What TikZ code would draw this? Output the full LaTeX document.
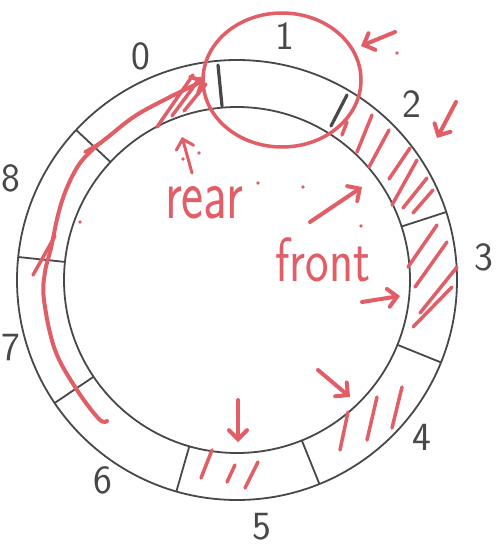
\documentclass[tikz,border=0pt]{standalone}
\usepackage{tikz}
\usetikzlibrary{arrows.meta}
\definecolor{ink}{RGB}{72,72,72}
\definecolor{pen}{RGB}{225,94,102}

\begin{document}
\begin{tikzpicture}[x=1pt, y=-1pt,
    ring/.style={draw=ink, line width=1.8pt},
    slot/.style={font=\fontsize{40}{40}\selectfont\sffamily, text=ink, inner sep=0pt},
    redpen/.style={draw=pen, line width=4pt, line cap=round, line join=round},
    hatch/.style={redpen, line width=3.5pt},
    pointer/.style={redpen, -{Straight Barb[length=9pt, width=18pt, line cap=round]}},
    word/.style={text=pen, inner sep=0pt, font=\fontsize{50}{50}\selectfont\sffamily}]

    \fill[white] (0,0) rectangle (495,551);
    \useasboundingbox (0,0) rectangle (495,551);

    % the ring buffer
    \coordinate (c) at (237,280);
    \draw[ring] (c) circle[radius=220];
    \draw[ring] (c) circle[radius=173];
    \foreach \a in {-174,-137,-18,22,68,106,146}
        \draw[ring, shift={(c)}] (\a:173) -- (\a:220);
    \draw[ring, line width=3.2pt, line cap=round] (218,65) -- (222,106);
    \draw[ring, line width=3.2pt, line cap=round] (347,95) -- (331,126);

    % slot numbers
    \node[slot] (n0) at (141,56) {0};
    \node[slot] (n1) at (285,36) {1};
    \node[slot] (n2) at (412,104) {2};
    \node[slot] (n3) at (484,257) {3};
    \node[slot] (n4) at (422,437) {4};
    \node[slot] (n5) at (262,527) {5};
    \node[slot] (n6) at (103,480) {6};
    \node[slot] (n7) at (11,348) {7};
    \node[slot] (n8) at (11,178) {8};

    % red notes
    \draw[redpen, line width=3.5pt] (282,80) ellipse[x radius=79, y radius=67];
    \draw[pointer] plot[smooth, tension=0.6] coordinates {(107,421) (99,419) (77,390)
        (55,350) (44,300) (45,272) (51,248) (58,215) (66,190) (78,166) (92,150)
        (108,137) (135,116) (168,98) (205,80)};
    \draw[hatch] (33,275) -- (55,236);
    \draw[hatch] (85,152) -- (102,142);
    \foreach \xa/\ya/\xb/\yb in {157/127/193/75, 172/116/200/78, 184/111/206/84}
        \draw[hatch] (\xa,\ya) -- (\xb,\yb);

    \draw[pointer, line width=3pt] (192,173) -- (182,137);
    \node[word] (rear) at (204,203) {\scalebox{1.05}[1.45]{rear}};
    \node[word] (front) at (323,260) {\scalebox{1}[1.25]{front}};

    \draw[pointer] (395,32) -- (361,46);
    \draw[pointer] (456,102) -- (437,138);
    \draw[pointer] (310,222) -- (362,187);
    \draw[pointer] (362,302) -- (400,296);
    \draw[pointer] (318,370) -- (350,397);
    \draw[pointer] (238,400) -- (238,442);

    % hatching of the filled slots
    \foreach \xa/\ya/\xb/\yb in {347/122/342/135, 372/115/357/152, 389/130/369/167,
        410/148/389/179, 417/160/392/205, 427/178/403/208, 433/190/413/213,
        437/225/408/267, 447/242/415/287, 457/267/420/313, 452/287/413/327,
        348/412/340/450, 377/397/367/440, 402/387/392/428,
        212/450/201/478, 235/465/227/482, 258/462/245/488}
        \draw[hatch] (\xa,\ya) -- (\xb,\yb);

    % stray dots
    \foreach \xa/\ya in {183/159, 199/153, 258/183, 303/187, 361/226, 80/222, 397/53}
        \fill[pen] (\xa,\ya) circle[radius=1.8];
\end{tikzpicture}
\end{document}
